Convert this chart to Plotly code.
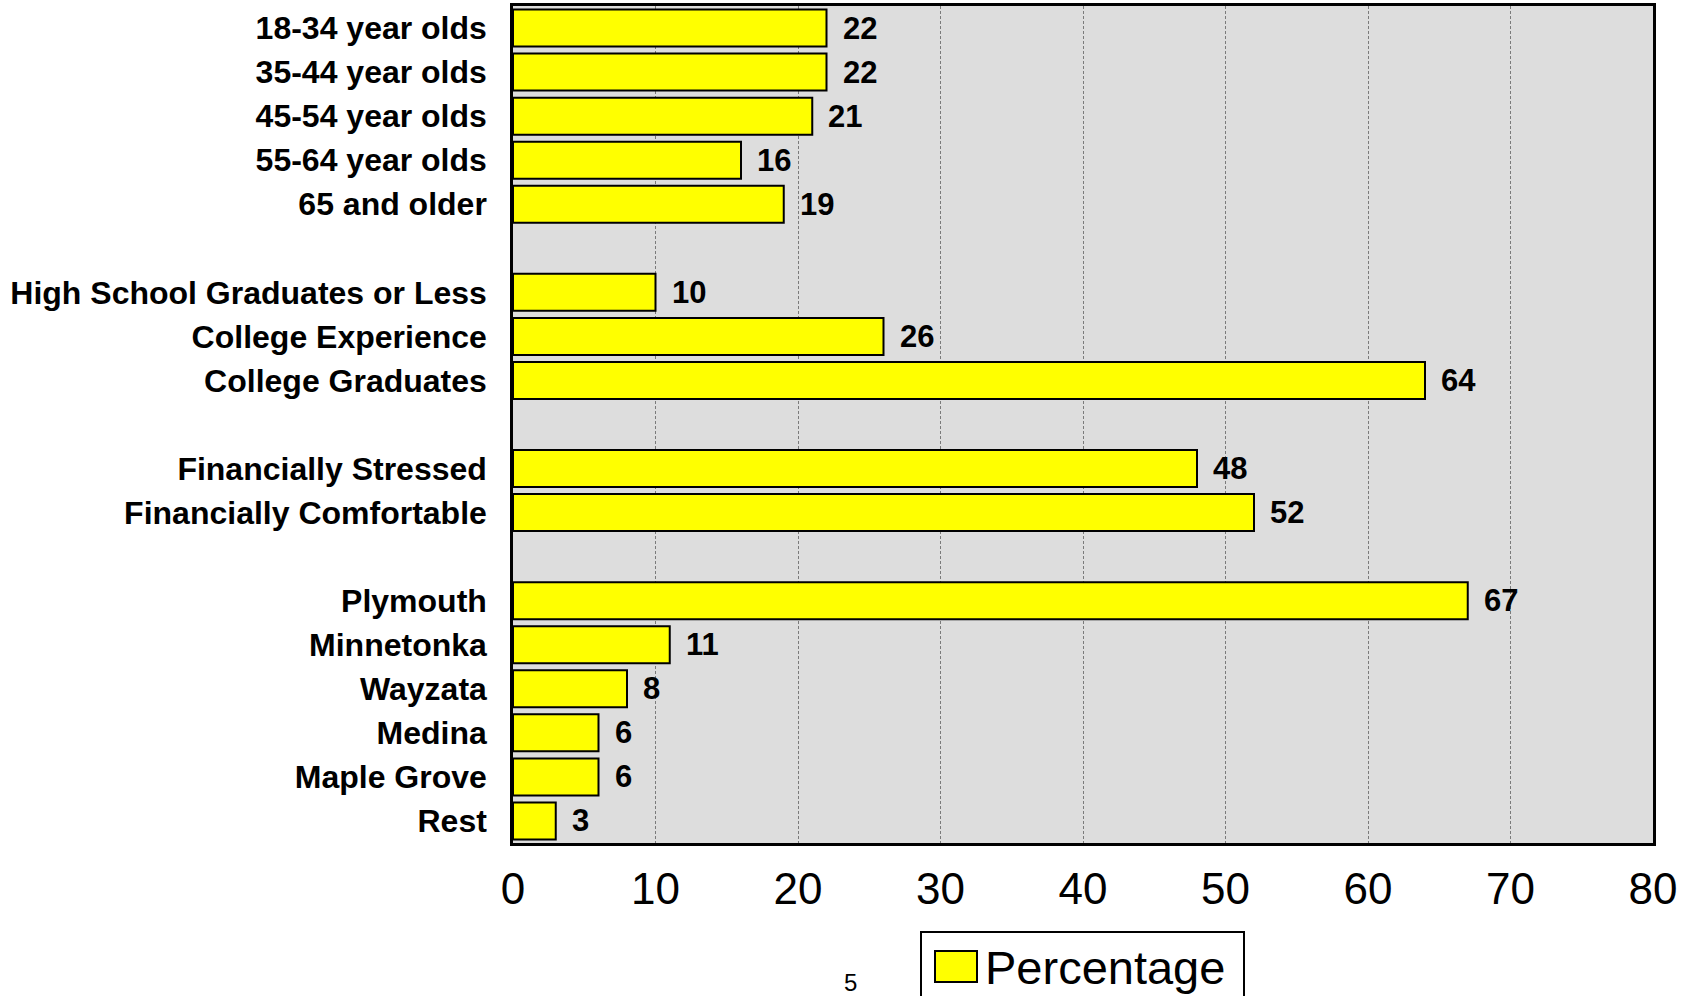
import plotly.graph_objects as go

categories = [
    "18-34 year olds", "35-44 year olds", "45-54 year olds", "55-64 year olds", "65 and older",
    " ",
    "High School Graduates or Less", "College Experience", "College Graduates",
    "  ",
    "Financially Stressed", "Financially Comfortable",
    "   ",
    "Plymouth", "Minnetonka", "Wayzata", "Medina", "Maple Grove", "Rest",
]
values = [22, 22, 21, 16, 19, None, 10, 26, 64, None, 48, 52, None, 67, 11, 8, 6, 6, 3]
x_ticks = [0, 10, 20, 30, 40, 50, 60, 70, 80]
series_name = "Percentage"
page_number = "5"

BAR_COLOR = "#FFFF00"
FONT = "Liberation Sans"

W, H = 1696, 996
L, R, T, B = 513, 43, 6, 153
pw, ph = W - L - R, H - T - B


def px_x(x):
    return (x - L) / pw


def px_y(y):
    return (H - B - y) / ph


fig = go.Figure()
fig.add_trace(go.Bar(
    y=categories, x=values, orientation="h", name=series_name,
    marker=dict(color=BAR_COLOR, line=dict(color="#000000", width=2)),
    showlegend=False,
))

for c, v in zip(categories, values):
    if v is None:
        continue
    fig.add_annotation(x=v, y=c, text=f"<b>{v}</b>", showarrow=False, xanchor="left",
                       xshift=14, font=dict(family=FONT, size=31, color="#000"),
                       xref="x", yref="y")

# page number
fig.add_annotation(x=px_x(850), y=px_y(982), xref="paper", yref="paper", text=page_number,
                   showarrow=False, xanchor="center", yanchor="middle",
                   font=dict(family=FONT, size=24, color="#000"))

# legend box (drawn manually for a large swatch)
fig.add_shape(type="rect", xref="paper", yref="paper",
              x0=px_x(921), x1=px_x(1244), y0=px_y(932), y1=px_y(1010),
              line=dict(color="#000", width=2), fillcolor="white", layer="above")
fig.add_shape(type="rect", xref="paper", yref="paper",
              x0=px_x(935), x1=px_x(977), y0=px_y(951), y1=px_y(982),
              line=dict(color="#000", width=2), fillcolor=BAR_COLOR, layer="above")
fig.add_annotation(x=px_x(983), y=px_y(967), xref="paper", yref="paper", text=series_name,
                   showarrow=False, xanchor="left", yanchor="middle",
                   font=dict(family=FONT, size=47, color="#000"))

fig.update_layout(
    width=W, height=H,
    margin=dict(l=L, r=R, t=T, b=B, pad=0, autoexpand=False),
    paper_bgcolor="white", plot_bgcolor="#DDDDDD",
    bargap=0.16,
    showlegend=False,
    font=dict(family=FONT, color="#000"),
    xaxis=dict(range=[0, 80], tickvals=x_ticks, showgrid=True, gridcolor="#7a7a7a",
               griddash="3px,2px", gridwidth=1, zeroline=False,
               showline=True, linecolor="#000", linewidth=3, mirror=True,
               tickfont=dict(size=44, family=FONT), ticks="",
               ticklabelstandoff=5),
    yaxis=dict(type="category", categoryorder="array", categoryarray=categories,
               autorange="reversed", showgrid=False, zeroline=False,
               showline=True, linecolor="#000", linewidth=2.5, mirror=True,
               tickfont=dict(size=32, family=FONT, weight="bold"), ticks="",
               ticklabelstandoff=17),
)

fig.write_html("out.html", config={"displayModeBar": False},
               post_script="document.body.style.margin='0px';")
